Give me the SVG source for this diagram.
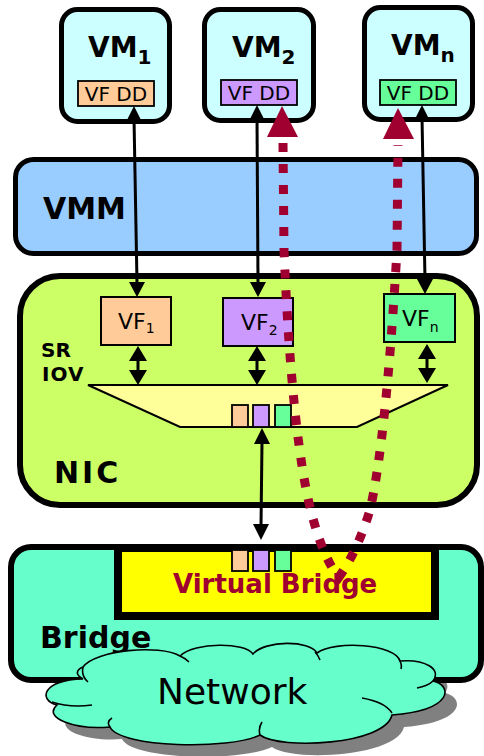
<svg xmlns="http://www.w3.org/2000/svg" xmlns:xlink="http://www.w3.org/1999/xlink" width="484" height="756" viewBox="0 0 484 756">
<style>
.b{font-family:"DejaVu Sans","Verdana",sans-serif;font-weight:bold;fill:#000}
.n{font-family:"DejaVu Sans","Verdana",sans-serif;fill:#000}
.vm{fill:#CCFFFF;stroke:#000;stroke-width:5}
.dd{stroke:#000;stroke-width:1.8}
.vf{stroke:#000;stroke-width:2}
.sq{stroke:#000;stroke-width:1.8}
.ln{stroke:#000;stroke-width:3;fill:none}
.ah{fill:#000}
.red{fill:#A00030}
.dots{fill:none;stroke:#A00030;stroke-width:9;stroke-dasharray:9 12}
.cl{stroke:#000;stroke-width:1.6;fill:none}
</style>
<defs>
<path id="cloud" d="M 83 667 C 95 650, 160 644, 180 656 C 195 642, 245 642, 253 654 C 265 640, 310 640, 317 653 C 335 640, 395 644, 400 661 C 425 659, 442 669, 433 681 C 452 685, 455 710, 392 715 C 385 745, 280 750, 260 735 C 230 750, 120 748, 110 727 C 75 730, 42 718, 57 705 C 38 700, 42 680, 83 679 C 75 675, 76 670, 83 667 Z"/>
</defs>

<g id="vm1">
<rect class="vm" x="61.5" y="9.5" width="108" height="112" rx="16"/>
<text class="b" x="88" y="57" font-size="28">VM<tspan font-size="20" dy="7">1</tspan></text>
<rect class="dd" x="78" y="81" width="76" height="25" fill="#FFCC99"/>
<text class="n" x="116" y="101" font-size="20" text-anchor="middle">VF DD</text>
</g>
<g id="vm2">
<rect class="vm" x="204.5" y="9.5" width="109" height="111" rx="16"/>
<text class="b" x="232" y="57" font-size="28">VM<tspan font-size="20" dy="7">2</tspan></text>
<rect class="dd" x="221" y="80" width="76" height="25" fill="#CC99FF"/>
<text class="n" x="259" y="100" font-size="20" text-anchor="middle">VF DD</text>
</g>
<g id="vmn">
<rect class="vm" x="364.5" y="7.5" width="108" height="112" rx="16"/>
<text class="b" x="391" y="55" font-size="28">VM<tspan font-size="20" dy="7">n</tspan></text>
<rect class="dd" x="380" y="80" width="76" height="25" fill="#66FF99"/>
<text class="n" x="418" y="100" font-size="20" text-anchor="middle">VF DD</text>
</g>

<g id="vmm">
<rect x="15.5" y="159.5" width="461" height="94" rx="18" fill="#99CCFF" stroke="#000" stroke-width="5"/>
<text class="b" x="43" y="219" font-size="30">VMM</text>
</g>

<g id="nic">
<rect x="20" y="276" width="457" height="229" rx="40" fill="#CCFF66" stroke="#000" stroke-width="6"/>
<text class="b" x="54" y="483" font-size="30" letter-spacing="3">NIC</text>
<text class="b" x="41" y="357" font-size="20">SR</text>
<text class="b" x="42" y="381" font-size="20" letter-spacing="1">IOV</text>
</g>
<g id="vf1">
<rect class="vf" x="101" y="297" width="70" height="48" fill="#FFCC99"/>
<text class="n" x="118" y="329" font-size="22">VF<tspan font-size="14" dy="4">1</tspan></text>
</g>
<g id="vf2">
<rect class="vf" x="223" y="298" width="70" height="48" fill="#CC99FF"/>
<text class="n" x="241" y="330" font-size="22">VF<tspan font-size="14" dy="5">2</tspan></text>
</g>
<g id="vfn">
<rect class="vf" x="384" y="294" width="71" height="48" fill="#66FF99"/>
<text class="n" x="402" y="326" font-size="22">VF<tspan font-size="14" dy="6">n</tspan></text>
</g>
<g id="sriov-switch">
<polygon points="88,385 448,385 357,427 180,427" fill="#FFFF99" stroke="#000" stroke-width="2"/>
<rect class="sq" x="232" y="405" width="16" height="22" fill="#FFCC99"/>
<rect class="sq" x="253" y="405" width="16" height="22" fill="#CC99FF"/>
<rect class="sq" x="275" y="405" width="16" height="22" fill="#66FF99"/>
</g>

<g id="network-shadow">
<use xlink:href="#cloud" href="#cloud" transform="translate(12,12)" fill="#808080"/>
</g>

<g id="bridge">
<rect x="11" y="547" width="470" height="133" rx="20" fill="#66FFCC" stroke="#000" stroke-width="6"/>
<text class="b" x="40" y="648" font-size="30">Bridge</text>
</g>
<g id="virtual-bridge">
<rect x="118" y="548" width="317" height="68" fill="#FFFF00" stroke="#000" stroke-width="8"/>
<rect class="sq" x="232" y="550" width="16" height="21" fill="#FFCC99"/>
<rect class="sq" x="253" y="550" width="16" height="21" fill="#CC99FF"/>
<rect class="sq" x="275" y="550" width="16" height="21" fill="#66FF99"/>
<text class="b" x="173" y="593" font-size="26" style="fill:#A00030">Virtual Bridge</text>
</g>

<g id="network">
<use xlink:href="#cloud" href="#cloud" fill="#66FFCC" stroke="#000" stroke-width="1.6"/>
<path class="cl" d="M 83 667 Q 81 676 88 682 M 52 702 Q 70 708 92 705 M 180 656 Q 185 658 189 662 M 315 652 Q 318 655 320 660 M 400 661 Q 402 665 401 669 M 433 681 Q 428 686 417 688 M 362 698 Q 385 702 392 713 M 260 735 Q 258 728 262 722 M 110 727 Q 106 722 112 718"/>
<text class="n" x="157" y="704" font-size="36">Network</text>
</g>

<g id="connectors">
<line class="ln" x1="134" y1="118" x2="137" y2="283"/>
<polygon class="ah" points="134,106 127.5,119 140.5,119"/>
<polygon class="ah" points="137,297 129,282 145,282"/>
<line class="ln" x1="257" y1="118" x2="258" y2="283"/>
<polygon class="ah" points="257,105 250.5,118 263.5,118"/>
<polygon class="ah" points="258,297 250,282 266,282"/>
<line class="ln" x1="422" y1="117" x2="425" y2="280"/>
<polygon class="ah" points="422,105 415.5,118 428.5,118"/>
<polygon class="ah" points="425,294 417,279 433,279"/>

<line class="ln" x1="138" y1="358" x2="138" y2="373" stroke-width="4"/>
<polygon class="ah" points="138,346 129,361 147,361"/>
<polygon class="ah" points="138,385 129,370 147,370"/>
<line class="ln" x1="257" y1="358" x2="257" y2="373" stroke-width="4"/>
<polygon class="ah" points="257,346 248,361 266,361"/>
<polygon class="ah" points="257,385 248,370 266,370"/>
<line class="ln" x1="427" y1="356" x2="427" y2="371" stroke-width="4"/>
<polygon class="ah" points="427,344 418,359 436,359"/>
<polygon class="ah" points="427,383 418,368 436,368"/>

<line class="ln" x1="262" y1="442" x2="261" y2="526"/>
<polygon class="ah" points="262,428 254,444 270,444"/>
<polygon class="ah" points="261,540 253,524 269,524"/>

<path class="dots" d="M 283 143 L 284 250 Q 292 440 312 515 Q 324 560 339 577 Q 357 552 370 510 Q 386 440 397 250 L 398 145"/>
<polygon class="red" points="282,106 267,137 298,137"/>
<polygon class="red" points="398,108 383,139 414,139"/>
</g>
</svg>
